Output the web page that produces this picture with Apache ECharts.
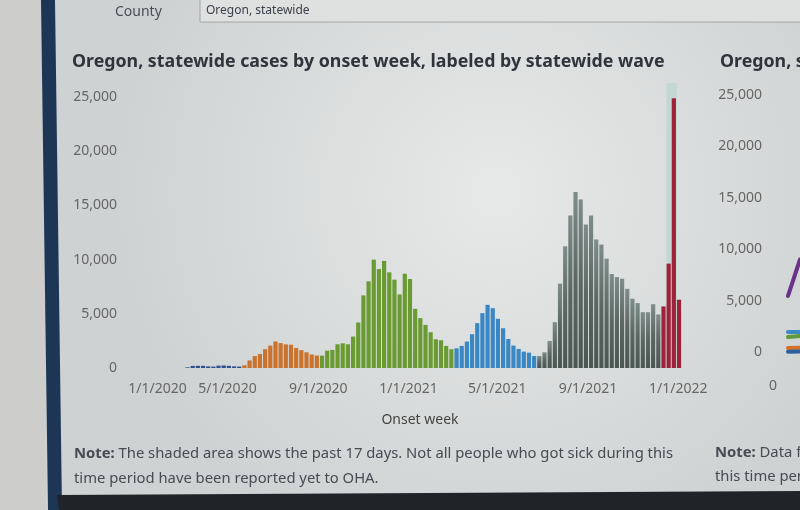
<!DOCTYPE html>
<html><head><meta charset="utf-8">
<script src="https://cdn.jsdelivr.net/npm/echarts@6/dist/echarts.min.js"></script>
<style>html,body{margin:0;padding:0;background:#d6d9d9}#c{width:800px;height:510px}</style>
</head><body><div id="c"></div>
<script>
// ---- data (weekly case counts by onset week) ----
const firstWeek = '2019-12-22';
const weekCount = 107;
const wave1Start = '2020-03-08';
const wave1 = [60, 190, 200, 200, 150, 130, 220, 230, 200, 150, 130];
const wave2Start = '2020-05-24';
const wave2 = [250, 700, 1100, 1300, 1730, 2070, 2450, 2300, 2180, 2150, 1850, 1650, 1450, 1250, 1150];
const wave3Start = '2020-09-06';
const wave3 = [1140, 1600, 1670, 2190, 2280, 2190, 2900, 4200, 6700, 8000, 10000, 9130, 9880, 8830, 8150, 6790, 8700, 8210, 5460, 4600, 3980, 3300, 2650, 2560, 2040, 1730];
const wave4Start = '2021-03-07';
const wave4 = [1820, 2040, 2440, 3120, 4140, 5060, 5830, 5520, 4540, 3670, 2680, 2070, 1760, 1510, 1420, 1110];
const wave5Start = '2021-06-27';
const wave5 = [1110, 1450, 2500, 4230, 7780, 11230, 14070, 16230, 15550, 13240, 14070, 11850, 11390, 10090, 8670, 8390, 8240, 7310, 6390, 5990, 5150, 5150, 5890, 4940];
const wave6Start = '2021-12-12';
const wave6 = [5680, 9630, 24900, 6300];
const shadeFrom = '2021-12-16';
const shadeTo = '2021-12-30';
const xTickDates = ['2020-01-01', '2020-05-01', '2020-09-01', '2021-01-01', '2021-05-01', '2021-09-01', '2022-01-01'];
const yTickStep = 5000;
const yMax = 26300;
// partial second chart at the right edge
const rightYMax = 25000;
const rightX = [0, 1];
const rightPurple = [5450, 9000];
const rightBlueTop = [1950, 1950];
const rightGreen = [1460, 1560];
const rightOrange = [390, 420];
const rightBlueLow = [30, 40];

// ---- helpers ----
function parts(s) { return s.split('-').map(Number); }
function addWeeks(s, i) { const p = parts(s); return new Date(p[0], p[1] - 1, p[2] + 7 * i).getTime(); }
function t(s) { return addWeeks(s, 0); }
function seriesData(start, vals) { return vals.map((v, i) => [addWeeks(start, i), v]); }
const DAY = 86400000;
const xMin = t(firstWeek) - 3.5 * DAY;
const xMax = addWeeks(firstWeek, weekCount - 1) + 3.5 * DAY;
const FONT = '"Noto Sans", "Open Sans", sans-serif';

function bar(name, start, vals, color) {
  return {
    name, type: 'bar', xAxisIndex: 0, yAxisIndex: 0, z: 3,
    barWidth: 4.2, barGap: '-100%',
    data: seriesData(start, vals),
    itemStyle: { color }
  };
}
function rline(vals, color) {
  return {
    type: 'line', xAxisIndex: 1, yAxisIndex: 1, symbol: 'none', silent: true,
    data: rightX.map((x, i) => [x, vals[i]]),
    lineStyle: { color, width: 4, cap: 'round' }
  };
}

const chart = echarts.init(document.getElementById('c'));
chart.setOption({
  animation: false,
  backgroundColor: 'transparent',
  grid: [
    { left: 128, right: 118.4, top: 83, bottom: 142 },
    { left: 788, right: 0, top: 95, bottom: 158 }
  ],
  xAxis: [
    {
      type: 'value', gridIndex: 0, min: xMin, max: xMax, scale: true,
      axisLine: { show: false }, axisTick: { show: false }, splitLine: { show: false },
      axisLabel: {
        customValues: xTickDates.map(t),
        margin: 14, color: '#666', fontSize: 14, fontFamily: FONT,
        formatter: function (v) {
          const d = new Date(v);
          const s = (d.getMonth() + 1) + '/' + d.getDate() + '/' + d.getFullYear();
          return v === t(xTickDates[0]) ? '{f|' + s + '}' : s;
        },
        rich: { f: { padding: [0, 0, 0, 39], color: '#666', fontSize: 14, fontFamily: FONT } }
      }
    },
    {
      type: 'value', gridIndex: 1, min: 0, max: 1,
      axisLine: { show: false }, axisTick: { show: false }, splitLine: { show: false },
      axisLabel: {
        customValues: [0], margin: 27, color: '#666', fontSize: 14, fontFamily: FONT,
        formatter: function (v) { return '{a|' + v + '}'; },
        rich: { a: { padding: [0, 30, 0, 0], color: '#666', fontSize: 14, fontFamily: FONT } }
      }
    }
  ],
  yAxis: [
    {
      type: 'value', gridIndex: 0, min: 0, max: yMax, interval: yTickStep,
      axisLine: { show: false }, axisTick: { show: false }, splitLine: { show: false },
      axisLabel: {
        showMaxLabel: false, margin: 11, color: '#666', fontSize: 14, fontFamily: FONT,
        formatter: v => v.toLocaleString('en-US')
      }
    },
    {
      type: 'value', gridIndex: 1, min: 0, max: rightYMax, interval: yTickStep,
      axisLine: { show: false }, axisTick: { show: false }, splitLine: { show: false },
      axisLabel: {
        margin: 26, color: '#666', fontSize: 14, fontFamily: FONT,
        formatter: v => v.toLocaleString('en-US')
      }
    }
  ],
  series: [
    {
      type: 'line', xAxisIndex: 0, yAxisIndex: 0, data: [], z: 1, silent: true,
      markArea: {
        silent: true,
        itemStyle: { color: '#c3d8d2', opacity: 1 },
        data: [[{ xAxis: t(shadeFrom) }, { xAxis: t(shadeTo) }]]
      }
    },
    bar('Wave 1', wave1Start, wave1, '#2d4f8e'),
    bar('Wave 2', wave2Start, wave2, '#c9732f'),
    bar('Wave 3', wave3Start, wave3, '#6a9b32'),
    bar('Wave 4', wave4Start, wave4, '#3b87c4'),
    bar('Wave 5', wave5Start, wave5, new echarts.graphic.LinearGradient(0, 0, 0, 1, [
      { offset: 0, color: '#7f8d8a' }, { offset: 0.5, color: '#5a6763' }, { offset: 1, color: '#4a5652' }
    ])),
    bar('Wave 6', wave6Start, wave6, '#9e2338'),
    rline(rightBlueTop, '#3b8ac6'),
    rline(rightGreen, '#5f9a3a'),
    rline(rightOrange, '#d4702c'),
    rline(rightBlueLow, '#2d5f9e'),
    rline(rightPurple, '#6a3288')
  ],
  graphic: [
    {
      type: 'rect', z: -10, silent: true,
      shape: { x: 0, y: 0, width: 800, height: 510 },
      style: { fill: new echarts.graphic.RadialGradient(0.62, 0.38, 0.75, [
        { offset: 0, color: '#e7e9e9' }, { offset: 1, color: '#cfd2d2' }
      ]) }
    },
    { type: 'rect', z: -9, silent: true, shape: { x: 0, y: 0, width: 46, height: 510 }, style: { fill: '#cdcecc' } },
    { type: 'polygon', z: -8, silent: true, shape: { points: [[41, 0], [55, 0], [62, 510], [48, 510]] }, style: { fill: '#1d3656' } },
    { type: 'polygon', z: -8, silent: true, shape: { points: [[57, 495], [800, 491], [800, 510], [59, 510]] }, style: { fill: '#202428' } },
    // county filter
    { type: 'text', x: 115, y: 12, style: { text: 'County', font: '14px ' + FONT, fill: '#4a4f58', verticalAlign: 'middle' } },
    { type: 'rect', shape: { x: 200, y: -2, width: 640, height: 24 }, style: { fill: '#dfe1e1', stroke: '#a3a5a6', lineWidth: 1 } },
    { type: 'text', x: 206, y: 11, style: { text: 'Oregon, statewide', font: '12px ' + FONT, fill: '#3c4048', verticalAlign: 'middle' } },
    // titles
    { type: 'text', x: 72, y: 62, style: { text: 'Oregon, statewide cases by onset week, labeled by statewide wave', font: 'bold 17.8px ' + FONT, fill: '#30343c', verticalAlign: 'middle' } },
    { type: 'text', x: 720, y: 62, style: { text: 'Oregon, statewide', font: 'bold 17.8px ' + FONT, fill: '#30343c', verticalAlign: 'middle' } },
    // axis title
    { type: 'text', x: 420, y: 420, style: { text: 'Onset week', font: '14px ' + FONT, fill: '#444', align: 'center', verticalAlign: 'middle' } },
    // notes
    { type: 'text', x: 74, y: 454, style: {
      text: '{b|Note:} The shaded area shows the past 17 days. Not all people who got sick during this',
      font: '14.8px ' + FONT, fill: '#474b52', verticalAlign: 'middle',
      rich: { b: { fontWeight: 'bold', fontSize: 14.8, fontFamily: FONT, fill: '#474b52' } } } },
    { type: 'text', x: 74, y: 479, style: { text: 'time period have been reported yet to OHA.', font: '14.8px ' + FONT, fill: '#474b52', verticalAlign: 'middle' } },
    { type: 'text', x: 715, y: 453, style: {
      text: '{b|Note:} Data from',
      font: '14.8px ' + FONT, fill: '#474b52', verticalAlign: 'middle',
      rich: { b: { fontWeight: 'bold', fontSize: 14.8, fontFamily: FONT, fill: '#474b52' } } } },
    { type: 'text', x: 715, y: 477, style: { text: 'this time period', font: '14.8px ' + FONT, fill: '#474b52', verticalAlign: 'middle' } }
  ]
});
</script></body></html>
